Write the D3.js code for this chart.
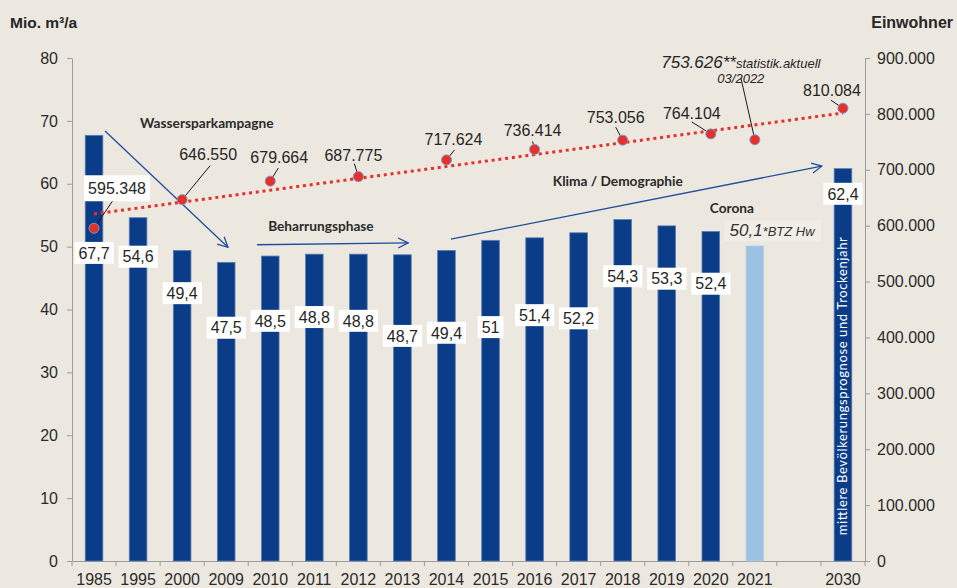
<!DOCTYPE html>
<html>
<head>
<meta charset="utf-8">
<script src="https://cdn.jsdelivr.net/npm/d3@7/dist/d3.min.js"></script>
<style>
body { margin: 0; background: #ece8df; }
svg { display: block; font-family: "Liberation Sans", Arial, sans-serif; }
.axis path, .axis line { stroke: #9c9c9c; }
.axis text { fill: #2b2b2b; font-size: 16px; font-family: "Liberation Sans", Arial, sans-serif; }
.note { font-family: Lato, "Open Sans", sans-serif; font-weight: bold; font-size: 13.7px; fill: #2a2a2a; }
</style>
</head>
<body>
<svg width="957" height="588"></svg>
<script>
// categories (the empty slot is the gap before 2030)
const years = ["1985", "1995", "2000", "2009", "2010", "2011", "2012", "2013", "2014",
    "2015", "2016", "2017", "2018", "2019", "2020", "2021", "", "2030"]
// Wasserverbrauch, Mio. m³/a
const consumption = [67.7, 54.6, 49.4, 47.5, 48.5, 48.8, 48.8, 48.7, 49.4,
    51, 51.4, 52.2, 54.3, 53.3, 52.4, 50.1, null, 62.4]
// Einwohner
const popYears = ["1985", "2000", "2010", "2012", "2014", "2016", "2018", "2020", "2021", "2030"]
const population = [595348, 646550, 679664, 687775, 717624, 736414, 753056, 764104, 753626, 810084]

const leftTicks = d3.range(0, 81, 10)
const rightTicks = d3.range(0, 900001, 100000)

// where Excel put the bar value labels (in Mio. m³ units)
const labelAt = [49.0, 48.4, 42.6, 37.1, 38.2, 38.8, 38.2, 35.8, 36.3,
    37.2, 39.1, 38.6, 45.3, 44.9, 44.1, 52.6, null, 58.4]
// population label offsets from the dot: [text dx, text dy, leader dx, leader dy]
const popLabelPos = [[23, -40, 19, -28], [26, -45, 28, -34], [9, -24, 8, -13], [-5, -21, -4, -13],
    [7, -21, 8, -10], [-2, -19, -2, -8], [-7, -23, -7, -13], [-19, -21, -19, -12],
    [-14, -62, -14, -62], [-11, -18, -12, -8]]

const width = 957
const height = 588
const plotL = 72, plotR = 865, plotT = 58, plotB = 561

const de = d3.formatLocale({ decimal: ",", thousands: ".", grouping: [3], currency: ["", " €"] })
const fmtPop = de.format(",")
const fmtVal = de.format(".3~r")

const svg = d3.select('svg')
svg.append('rect').attr('width', width).attr('height', height).attr('fill', '#ece8df')

const x = d3.scaleBand().domain(years).range([plotL, plotR]).padding(0)
const xi = d3.scaleLinear().domain([0, years.length]).range([plotL, plotR])
const y = d3.scaleLinear().domain([0, 80]).range([plotB, plotT])
const y2 = d3.scaleLinear().domain([0, 900000]).range([plotB, plotT])
const cx = d => x(d) + x.bandwidth() / 2
const barW = x.bandwidth() * 0.4

// axes
svg.append('g').attr('class', 'axis')
    .attr('transform', `translate(${plotL},0)`)
    .call(d3.axisLeft(y).tickValues(leftTicks).tickSize(5).tickSizeOuter(0).tickPadding(9))

svg.append('g').attr('class', 'axis')
    .attr('transform', `translate(${plotR},0)`)
    .call(d3.axisRight(y2).tickValues(rightTicks).tickFormat(fmtPop).tickSize(5).tickSizeOuter(0).tickPadding(7))

const xAxis = svg.append('g').attr('class', 'axis')
    .attr('transform', `translate(0,${plotB})`)
    .call(d3.axisBottom(x).tickSize(0).tickSizeOuter(0).tickPadding(13))
xAxis.selectAll('.tick line').remove()
xAxis.selectAll('.bound')
    .data(d3.range(0, years.length + 1))
    .enter().append('line')
    .attr('x1', d => xi(d)).attr('x2', d => xi(d))
    .attr('y1', 0).attr('y2', 5)
    .attr('stroke', '#9c9c9c')

// bars
const bars = years.map((d, i) => ({ year: d, v: consumption[i], lab: labelAt[i] }))
    .filter(d => d.v != null)

svg.append('g').selectAll('rect')
    .data(bars).enter().append('rect')
    .attr('x', d => cx(d.year) - barW / 2)
    .attr('y', d => y(d.v))
    .attr('width', barW)
    .attr('height', d => y(0) - y(d.v))
    .attr('fill', d => d.year === '2021' ? '#9dc1e3' : '#0a3c88')
    .attr('stroke', d => d.year === '2021' ? '#b3cfea' : '#5a7db5')
    .attr('stroke-width', 0.8)

// vertical note in the 2030 bar
svg.append('text')
    .attr('transform', `translate(${cx('2030') + 4.5},${y(4.1)}) rotate(-90)`)
    .attr('fill', '#fff')
    .attr('font-family', 'Lato, "Open Sans", sans-serif')
    .attr('font-size', 13)
    .attr('textLength', 298)
    .text('mittlere Bevölkerungsprognose und Trockenjahr')

// annotation arrows
svg.append('defs').append('marker')
    .attr('id', 'arr').attr('viewBox', '0 0 12 12')
    .attr('refX', 11).attr('refY', 6)
    .attr('markerWidth', 12).attr('markerHeight', 12)
    .attr('markerUnits', 'userSpaceOnUse')
    .attr('orient', 'auto')
    .append('path').attr('d', 'M1,1 L11,6 L1,11')
    .attr('fill', 'none').attr('stroke', '#1f4f9c').attr('stroke-width', 1.3)

const arrows = [
    [0.75, 68.4, 3.54, 49.9],
    [4.2, 50.3, 7.63, 50.6],
    [8.6, 51.2, 17.02, 62.8]
]
svg.append('g').selectAll('line')
    .data(arrows).enter().append('line')
    .attr('x1', d => xi(d[0])).attr('y1', d => y(d[1]))
    .attr('x2', d => xi(d[2])).attr('y2', d => y(d[3]))
    .attr('stroke', '#1f4f9c').attr('stroke-width', 1.3)
    .attr('marker-end', 'url(#arr)')

const notes = [
    ['Wassersparkampagne', 3.06, 69.7],
    ['Beharrungsphase', 5.65, 53.3],
    ['Klima / Demographie', 12.39, 60.4],
    ['Corona', 14.98, 56.1]
]
svg.append('g').selectAll('text')
    .data(notes).enter().append('text')
    .attr('class', 'note')
    .attr('x', d => xi(d[1])).attr('y', d => y(d[2]))
    .attr('dy', '0.35em')
    .attr('text-anchor', 'middle')
    .text(d => d[0])

// bar value labels
const labels = svg.append('g').selectAll('g')
    .data(bars.filter(d => d.year !== '2021')).enter().append('g')
    .attr('transform', d => `translate(${cx(d.year)},${y(d.lab)})`)
labels.append('rect').attr('fill', '#fff')
labels.append('text')
    .attr('text-anchor', 'middle').attr('dy', '0.36em')
    .attr('font-size', 16).attr('fill', '#262626')
    .text(d => fmtVal(d.v))
labels.each(function () {
    const b = d3.select(this).select('text').node().getBBox()
    d3.select(this).select('rect')
        .attr('x', b.x - 4).attr('y', -11).attr('width', b.width + 8).attr('height', 22)
})

// 2021 label
const d21 = bars.find(d => d.year === '2021')
const g21 = svg.append('g').attr('transform', `translate(${xi(15.89)},${y(d21.lab)})`)
const r21 = g21.append('rect').attr('fill', '#f1eee8')
const t21 = g21.append('text').attr('text-anchor', 'middle').attr('dy', '0.36em')
    .attr('font-style', 'italic').attr('fill', '#333')
t21.append('tspan').attr('font-size', 17).text(fmtVal(d21.v))
t21.append('tspan').attr('font-size', 13).text('*BTZ Hw')
const b21 = t21.node().getBBox()
r21.attr('x', b21.x - 5).attr('y', -10).attr('width', b21.width + 10).attr('height', 21)

// trend line (linear fit over category positions)
const popIdx = popYears.map(d => years.indexOf(d))
const mx = d3.mean(popIdx), my = d3.mean(population)
const slope = d3.sum(popIdx, (d, i) => (d - mx) * (population[i] - my)) / d3.sum(popIdx, d => (d - mx) ** 2)
const fit = i => my + slope * (i - mx)
svg.append('line')
    .attr('x1', xi(0.5)).attr('y1', y2(fit(0)))
    .attr('x2', xi(years.length - 0.5)).attr('y2', y2(fit(years.length - 1)))
    .attr('stroke', '#e8302a').attr('stroke-width', 3)
    .attr('stroke-dasharray', '3,3.8')

// population points
const pts = popYears.map((d, i) => ({ year: d, v: population[i], pos: popLabelPos[i] }))

svg.append('g').selectAll('line')
    .data(pts).enter().append('line')
    .attr('x1', d => cx(d.year) + d.pos[2]).attr('y1', d => y2(d.v) + d.pos[3])
    .attr('x2', d => cx(d.year)).attr('y2', d => y2(d.v))
    .attr('stroke', '#1a1a1a').attr('stroke-width', 1)

svg.append('g').selectAll('circle')
    .data(pts).enter().append('circle')
    .attr('cx', d => cx(d.year)).attr('cy', d => y2(d.v))
    .attr('r', 5)
    .attr('fill', '#e8302a').attr('stroke', '#7d94c4').attr('stroke-width', 1)

const popLab = svg.append('g').selectAll('g')
    .data(pts.filter(d => d.year !== '2021')).enter().append('g')
    .attr('transform', d => `translate(${cx(d.year) + d.pos[0]},${y2(d.v) + d.pos[1]})`)
popLab.filter(d => d.year === '1985').append('rect')
    .attr('x', -33).attr('y', -13).attr('width', 66).attr('height', 26).attr('fill', '#fff')
popLab.append('text')
    .attr('text-anchor', 'middle').attr('dy', '0.36em')
    .attr('font-size', 16).attr('fill', '#262626')
    .text(d => fmtPop(d.v))

// 2021 population (statistik.aktuell)
const p21 = pts.find(d => d.year === '2021')
const g2 = svg.append('g').attr('transform', `translate(${cx('2021') + p21.pos[0]},${y2(p21.v) + p21.pos[1]})`)
const t2 = g2.append('text').attr('text-anchor', 'middle').attr('y', -10)
    .attr('font-style', 'italic').attr('fill', '#262626')
t2.append('tspan').attr('font-size', 17).text(fmtPop(p21.v) + '**')
t2.append('tspan').attr('font-size', 13).text('statistik.aktuell')
g2.append('text').attr('text-anchor', 'middle').attr('y', 5)
    .attr('font-style', 'italic').attr('font-size', 13).attr('fill', '#262626')
    .text('03/2022')

// axis titles
svg.append('text').attr('x', 10).attr('y', 28)
    .attr('font-weight', 'bold').attr('font-size', 15.5).attr('fill', '#262626')
    .text('Mio. m³/a')
svg.append('text').attr('x', 953).attr('y', 28).attr('text-anchor', 'end')
    .attr('font-weight', 'bold').attr('font-size', 16).attr('fill', '#262626')
    .text('Einwohner')
</script>
</body>
</html>
